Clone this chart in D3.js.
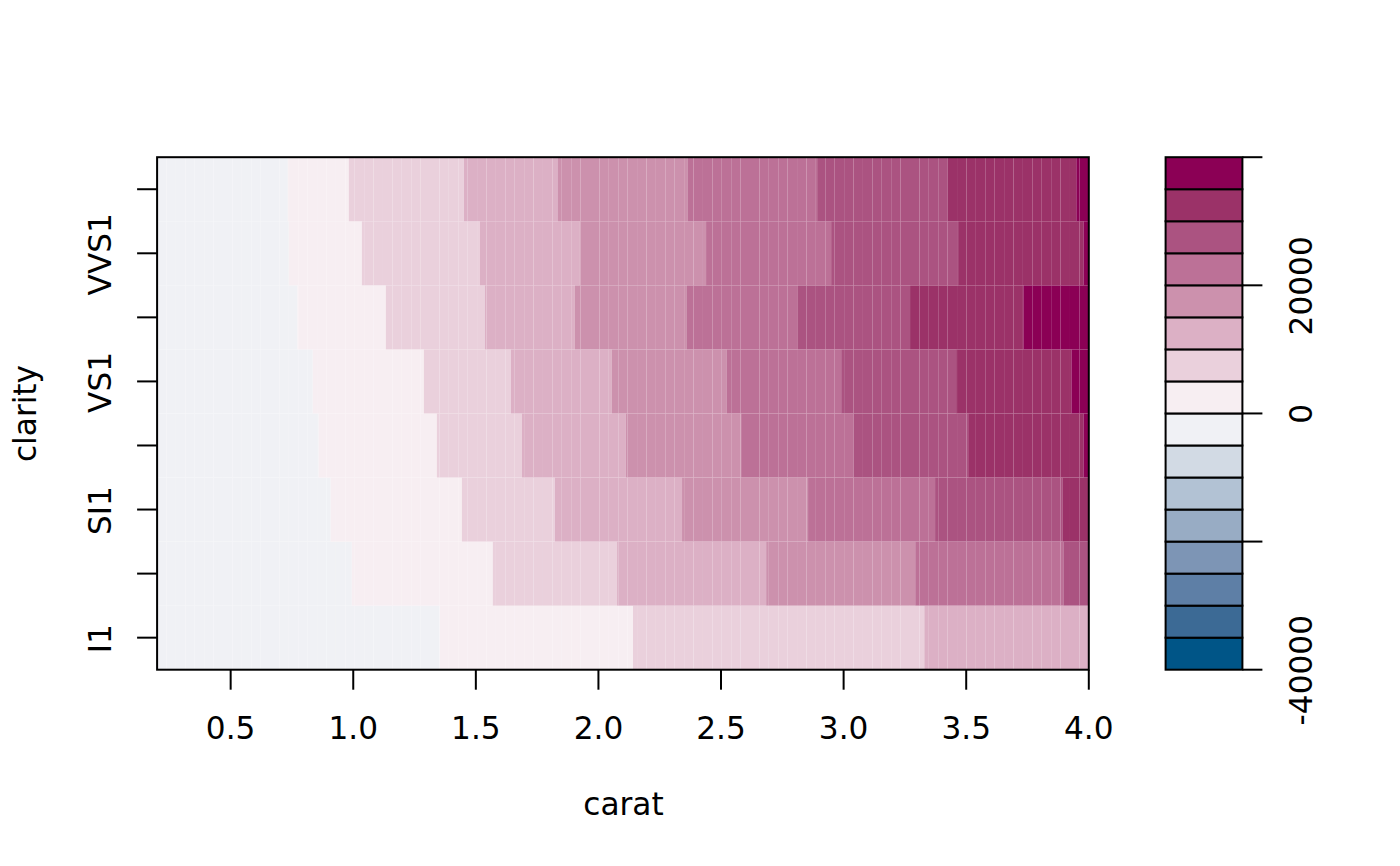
<!DOCTYPE html>
<html>
<head>
<meta charset="utf-8">
<script src="https://cdn.jsdelivr.net/npm/d3@7"></script>
<style>
html,body{margin:0;padding:0;background:#fff}
svg{display:block}
text{font-family:"DejaVu Sans";fill:#000}
</style>
</head>
<body>
<svg id="chart" width="1400" height="866"></svg>
<script>
const clarityLevels = ["I1","SI2","SI1","VS2","VS1","VVS2","VVS1","IF"];
const clarityLabels = ["I1","SI1","VS1","VVS1"];
const caratTicks = [0.5,1.0,1.5,2.0,2.5,3.0,3.5,4.0];
const keyTicks = [-40000,-20000,0,20000,40000];
const keyLabels = [-40000,0,20000];
const keyBreaks = [-40000,-35000,-30000,-25000,-20000,-15000,-10000,-5000,0,5000,10000,15000,20000,25000,30000,35000,40000];
const keyColors = ["#005587","#3c6a95","#5e7fa6","#7d95b5","#98acc4","#b2c2d4","#d2dae4","#f0f1f5","#f7eef2","#ead0dc","#dcb0c5","#cc91ad","#bc7197","#ab5381","#9b3268","#8b0055"];

// carat at which each clarity row steps into its next band
const edgesI1   = [1.353,2.141,3.329];
const edgesSI2  = [0.994,1.569,2.076,2.684,3.292,3.896];
const edgesSI1  = [0.908,1.443,1.822,2.341,2.855,3.373,3.892];
const edgesVS2  = [0.859,1.341,1.688,2.112,2.582,3.039,3.508,3.978];
const edgesVS1  = [0.835,1.288,1.643,2.055,2.524,2.990,3.459,3.929];
const edgesVVS2 = [0.773,1.133,1.537,1.904,2.361,2.814,3.271,3.733];
const edgesVVS1 = [0.737,1.035,1.516,1.924,2.439,2.949,3.467,3.978];
const edgesIF   = [0.733,0.982,1.451,1.835,2.365,2.892,3.422,3.949];

const valuesI1   = [-2500,2500,7500,12500];
const valuesSI2  = [-2500,2500,7500,12500,17500,22500,27500];
const valuesSI1  = [-2500,2500,7500,12500,17500,22500,27500,32500];
const valuesVS2  = [-2500,2500,7500,12500,17500,22500,27500,32500,37500];
const valuesVS1  = [-2500,2500,7500,12500,17500,22500,27500,32500,37500];
const valuesVVS2 = [-2500,2500,7500,12500,17500,22500,27500,32500,37500];
const valuesVVS1 = [-2500,2500,7500,12500,17500,22500,27500,32500,37500];
const valuesIF   = [-2500,2500,7500,12500,17500,22500,27500,32500,37500];

const rowEdges  = [edgesI1,edgesSI2,edgesSI1,edgesVS2,edgesVS1,edgesVVS2,edgesVVS1,edgesIF];
const rowValues = [valuesI1,valuesSI2,valuesSI1,valuesVS2,valuesVS1,valuesVVS2,valuesVVS1,valuesIF];

const caratMin = 0.2, caratMax = 4.0, gridCols = 99;
const FONT = 31.2, LW = 2;

const svg = d3.select("#chart");
const x = d3.scaleLinear().domain([caratMin,caratMax]).range([157.1,1088.8]);
const y = d3.scaleBand().domain(clarityLevels).range([669.7,157.2]);
const color = d3.scaleThreshold().domain(keyBreaks.slice(1,-1)).range(keyColors);
const keyY = d3.scaleLinear().domain([-40000,40000]).range([669.7,157.2]);
const keyLeft = 1165.6, keyRight = 1242.4;

const gridEdges = d3.range(gridCols+1).map(i => caratMin + i*(caratMax-caratMin)/gridCols);

const cells = [];
clarityLevels.forEach((row,r) => {
  const cuts = [caratMin,...rowEdges[r],caratMax];
  rowValues[r].forEach((v,b) => {
    const lo = cuts[b], hi = cuts[b+1];
    for (let i=0;i<gridCols;i++){
      const a = Math.max(lo,gridEdges[i]), c = Math.min(hi,gridEdges[i+1]);
      if (c>a) cells.push({row,v,a,c});
    }
  });
});

svg.append("g").selectAll("rect").data(cells).join("rect")
  .attr("x",d=>x(d.a)).attr("width",d=>x(d.c)-x(d.a))
  .attr("y",d=>y(d.row)).attr("height",y.bandwidth())
  .attr("fill",d=>color(d.v));

svg.append("rect")
  .attr("x",x.range()[0]).attr("y",y.range()[1])
  .attr("width",x.range()[1]-x.range()[0]).attr("height",y.range()[0]-y.range()[1])
  .attr("fill","none").attr("stroke","#000").attr("stroke-width",LW);

const styleAxis = g => {
  g.select(".domain").remove();
  g.selectAll(".tick line").attr("stroke","#000").attr("stroke-width",LW);
  g.attr("font-family",null).attr("font-size",null);
  g.selectAll("text").style("font-size",FONT+"px").style("font-family","DejaVu Sans").attr("fill","#000");
};

// x axis
svg.append("g").attr("transform",`translate(0,${y.range()[0]})`)
  .call(d3.axisBottom(x).tickValues(caratTicks).tickFormat(d3.format(".1f")).tickSize(20).tickPadding(0).offset(0))
  .call(styleAxis)
  .selectAll("text").attr("y",69.5).attr("dy",0);

// y axis
const ya = svg.append("g").attr("transform",`translate(${x.range()[0]},0)`)
  .call(d3.axisLeft(y).tickValues(clarityLevels).tickFormat(d=>clarityLabels.includes(d)?d:"").tickSize(20).offset(0))
  .call(styleAxis);
ya.selectAll("text")
  .attr("text-anchor","middle").attr("dy",0).attr("x",0).attr("y",0)
  .attr("transform","translate(-46.2,1) rotate(-90)");

// colour key
svg.append("g").selectAll("rect").data(keyColors).join("rect")
  .attr("x",keyLeft).attr("width",keyRight-keyLeft)
  .attr("y",(d,i)=>keyY(keyBreaks[i+1])).attr("height",(d,i)=>keyY(keyBreaks[i])-keyY(keyBreaks[i+1]))
  .attr("fill",d=>d).attr("stroke","#000").attr("stroke-width",LW);

const ka = svg.append("g").attr("transform",`translate(${keyRight},0)`)
  .call(d3.axisRight(keyY).tickValues(keyTicks).tickFormat(d=>keyLabels.includes(d)?String(d):"").tickSize(20).offset(0))
  .call(styleAxis);
ka.selectAll("text")
  .attr("text-anchor","middle").attr("dy",0).attr("x",0).attr("y",0)
  .attr("transform","translate(69.3,0.5) rotate(-90)");

// titles
svg.append("text").attr("x",623.5).attr("y",815).attr("text-anchor","middle").style("font-size",FONT+"px").text("carat");
svg.append("text").attr("transform","translate(35.7,413.5) rotate(-90)").attr("text-anchor","middle").style("font-size",FONT+"px").text("clarity");
</script>
</body>
</html>
